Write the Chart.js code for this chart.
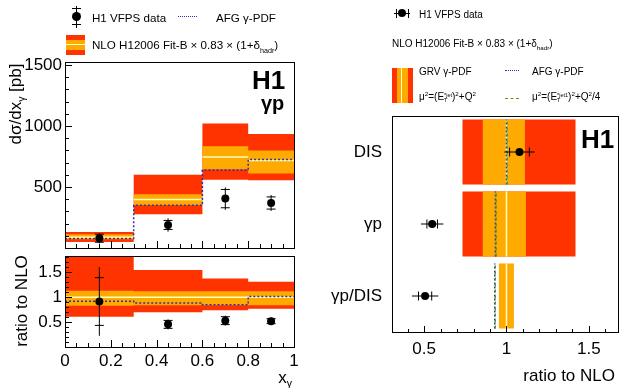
<!DOCTYPE html>
<html>
<head>
<meta charset="utf-8">
<title>H1 VFPS dijets</title>
<script src="https://cdn.jsdelivr.net/npm/chart.js@4.4.1/dist/chart.umd.min.js"></script>
<style>
  html, body { margin: 0; padding: 0; background: #fff; }
  #page { position: relative; width: 624px; height: 388px; overflow: hidden; font-family: "Liberation Sans", Arial, sans-serif; color: #000; }
  #page canvas { position: absolute; left: 0; top: 0; }
  .t { position: absolute; white-space: nowrap; line-height: 1; }
  .mid { transform: translateY(-50%); }
  .rmid { transform: translate(-100%, -50%); }
  .rot { transform: translate(-50%, -50%) rotate(-90deg); }
  sub, sup { font-size: 0.62em; line-height: 0; }
  .ss { display: inline-block; font-size: 0.55em; line-height: 1; vertical-align: -0.45em; text-align: left; }
  .sym { position: absolute; }
</style>
</head>
<body>
<div id="page">
  <canvas id="xsec" width="624" height="388"></canvas>
  <canvas id="ratio" width="624" height="388"></canvas>
  <canvas id="summary" width="624" height="388"></canvas>

  <!-- left legend -->
  <div class="sym" style="left:76px;top:6px;width:1px;height:22px;background:#000"></div>
  <div class="sym" style="left:72px;top:8px;width:9px;height:1px;background:#000"></div>
  <div class="sym" style="left:72px;top:24px;width:9px;height:1px;background:#000"></div>
  <div class="sym" style="left:72px;top:12px;width:9px;height:9px;border-radius:50%;background:#000"></div>
  <div class="t mid" style="left:92px;top:18px;font-size:11.6px">H1 VFPS data</div>
  <div class="sym" style="left:178px;top:16px;width:19px;border-top:1.5px dotted #3030a8"></div>
  <div class="t mid" style="left:216px;top:18px;font-size:11.6px">AFG γ-PDF</div>
  <div class="sym" style="left:66px;top:35px;width:19px;height:20px;background:linear-gradient(to bottom,#ff3300 0 5px,#ffaa00 5px 9.5px,#ffffc0 9.5px 10.5px,#ffaa00 10.5px 15px,#ff3300 15px 20px)"></div>
  <div class="t mid" style="left:92px;top:45px;font-size:11.6px">NLO H12006 Fit-B × 0.83 × (1+δ<sub>hadr</sub>)</div>

  <!-- left panel texts -->
  <div class="t" style="left:252px;top:67px;font-size:26px;font-weight:bold">H1</div>
  <div class="t" style="left:261px;top:93px;font-size:20px;font-weight:bold">γp</div>
  <div class="t rot" style="left:15px;top:104px;font-size:17px">dσ/dx<sub>γ</sub> [pb]</div>
  <div class="t rot" style="left:21px;top:301px;font-size:17px">ratio to NLO</div>
  <div class="t rmid" style="left:292px;top:377px;font-size:17px">x<sub>γ</sub></div>

  <!-- right legend -->
  <div class="sym" style="left:394px;top:13px;width:16px;height:1px;background:#000"></div>
  <div class="sym" style="left:396px;top:9px;width:1px;height:9px;background:#000"></div>
  <div class="sym" style="left:408px;top:9px;width:1px;height:9px;background:#000"></div>
  <div class="sym" style="left:398px;top:9px;width:8px;height:8px;border-radius:50%;background:#000"></div>
  <div class="t mid" style="left:419px;top:15px;font-size:10px">H1 VFPS data</div>
  <div class="t mid" style="left:392px;top:44px;font-size:10px">NLO H12006 Fit-B × 0.83 × (1+δ<sub>hadr</sub>)</div>
  <div class="sym" style="left:392px;top:68px;width:21px;height:35px;background:linear-gradient(to right,#ff3300 0 5px,#ffaa00 5px 9px,#ffffc0 9px 10px,#ffaa00 10px 16px,#ff3300 16px 21px)"></div>
  <div class="t mid" style="left:419px;top:72px;font-size:10px">GRV γ-PDF</div>
  <div class="sym" style="left:505px;top:70px;width:14px;border-top:1.5px dotted #3030a8"></div>
  <div class="t mid" style="left:532px;top:72px;font-size:10px">AFG γ-PDF</div>
  <div class="t mid" style="left:419px;top:98px;font-size:10px">μ<sup>2</sup>=(E<span class="ss">*jet<br>T</span>)<sup>2</sup>+Q<sup>2</sup></div>
  <div class="sym" style="left:505px;top:98px;width:14px;border-top:1.5px dashed #4f9a1e"></div>
  <div class="t mid" style="left:532px;top:98px;font-size:10px">μ<sup>2</sup>=(E<span class="ss">*jet1<br>T</span>)<sup>2</sup>+Q<sup>2</sup>/4</div>

  <!-- right panel texts -->
  <div class="t" style="left:581px;top:126px;font-size:26px;font-weight:bold">H1</div>
  <div class="t rmid" style="left:615px;top:375px;font-size:17px">ratio to NLO</div>
</div>

<script>
// bins in x_gamma
const binEdges = [0, 0.3, 0.6, 0.8, 1.0];
const binCentres = [0.15, 0.45, 0.7, 0.9];

// d sigma / d x_gamma [pb]
const nloCentral = [88, 397, 746, 718];
const nloTotalUp = [131, 601, 1020, 935];
const nloTotalDown = [49, 276, 560, 555];
const nloScaleUp = [112, 440, 834, 800];
const nloScaleDown = [72, 350, 643, 610];
const afgXsec = [78, 350, 640, 725];
const dataXsec = [80, 189, 405, 369];
const dataXsecStat = [33, 37, 75, 50];
const dataXsecTot = [42, 55, 92, 65];

// ratio to NLO per bin
const ratioCentral = [1, 1, 1, 1];
const ratioTotalUp = [1.9, 1.55, 1.38, 1.31];
const ratioTotalDown = [0.61, 0.70, 0.74, 0.77];
const ratioScaleUp = [1.13, 1.12, 1.12, 1.12];
const ratioScaleDown = [0.83, 0.84, 0.84, 0.84];
const ratioAfg = [0.92, 0.885, 0.85, 1.015];
const ratioData = [0.915, 0.455, 0.53, 0.52];
const ratioStat = [0.48, 0.08, 0.08, 0.05];
const ratioTot = [0.69, 0.10, 0.10, 0.07];

// summary: ratio to NLO for DIS, photoproduction and their ratio
const summaryCats = ['DIS', 'γp', 'γp/DIS'];
const sumTotalDown = [0.733, 0.733, null];
const sumTotalUp = [1.419, 1.419, null];
const sumScaleDown = [0.856, 0.856, 0.954];
const sumScaleUp = [1.112, 1.118, 1.045];
const sumCentral = [1, 1, 1];
const sumAfg = [1.0, 0.933, 0.929];
const sumMuAlt = [1.004, 0.937, 0.932];
const sumData = [1.079, 0.549, 0.506];
const sumStat = [0.06, 0.032, 0.04];
const sumTot = [0.092, 0.068, 0.08];

// tick labels
const xTicks = [0, 0.2, 0.4, 0.6, 0.8, 1];
const xsecTicks = [500, 1000, 1500];
const ratioTicks = [0.5, 1, 1.5];
const sumTicks = [0.5, 1, 1.5];

const RED = '#ff3300', ORANGE = '#ffaa00', PALE = '#ffffc0', BLUE = '#3030a8', GREEN = '#4f9a1e';
const BAND_HALF = 0.45;

Chart.defaults.font.family = "'Liberation Sans', Arial, sans-serif";
Chart.defaults.font.size = 17;
Chart.defaults.color = '#000';

const catPos = i => summaryCats.length - 0.5 - i;

function stepPoints(vals) {
  return binEdges.map((x, i) => ({ x, y: vals[Math.min(i, vals.length - 1)] }));
}
function binSegments(vals) {
  const pts = [];
  vals.forEach((v, i) => {
    pts.push({ x: binEdges[i], y: v }, { x: binEdges[i + 1], y: v }, { x: binEdges[i + 1], y: null });
  });
  return pts;
}
function vErrors(xs, ys, err) {
  const pts = [];
  xs.forEach((x, i) => { pts.push({ x, y: ys[i] - err[i] }, { x, y: ys[i] + err[i] }, { x, y: null }); });
  return pts;
}
function vTicks(xs, ys, err) {
  return xs.flatMap((x, i) => [{ x, y: ys[i] - err[i] }, { x, y: ys[i] + err[i] }]);
}
function catLines(vals) {
  const pts = [];
  vals.forEach((v, i) => {
    const c = catPos(i);
    pts.push({ x: v, y: c - BAND_HALF }, { x: v, y: c + BAND_HALF }, { x: v, y: null });
  });
  return pts;
}
function hErrors(vals, err) {
  const pts = [];
  vals.forEach((v, i) => {
    const c = catPos(i);
    pts.push({ x: v - err[i], y: c }, { x: v + err[i], y: c }, { x: null, y: c });
  });
  return pts;
}
function hTicks(vals, err) {
  return vals.flatMap((v, i) => [{ x: v - err[i], y: catPos(i) }, { x: v + err[i], y: catPos(i) }]);
}
function bars(lo, hi) {
  return summaryCats.map((c, i) => lo[i] == null ? null : { y: catPos(i), x: [lo[i], hi[i]] }).filter(Boolean);
}

// ROOT-like frame with inward ticks
function frameTicks(specs) {
  return {
    id: 'frameTicks',
    afterDraw(chart) {
      const { ctx, chartArea: a } = chart;
      ctx.save();
      ctx.strokeStyle = '#000';
      ctx.lineWidth = 1;
      ctx.beginPath();
      specs.forEach(sp => {
        const s = chart.scales[sp.id];
        const first = Math.ceil(s.min / sp.minor - 1e-6);
        const last = Math.floor(s.max / sp.minor + 1e-6);
        for (let k = first; k <= last; k++) {
          const v = k * sp.minor;
          const r = v / sp.major;
          const len = Math.abs(r - Math.round(r)) < 1e-6 ? sp.majorLen : sp.minorLen;
          const p = Math.round(s.getPixelForValue(v)) + 0.5;
          if (s.axis === 'x') { ctx.moveTo(p, a.bottom); ctx.lineTo(p, a.bottom - len); }
          else { ctx.moveTo(a.left, p); ctx.lineTo(a.left + len, p); }
        }
      });
      ctx.stroke();
      ctx.strokeRect(Math.round(a.left) + 0.5, Math.round(a.top) + 0.5,
        Math.round(a.right - a.left), Math.round(a.bottom - a.top));
      ctx.restore();
    }
  };
}

function bandDatasets(totUp, totDown, scUp, scDown, central, afg, ys, stat, tot) {
  return [
    { type: 'line', data: stepPoints(totUp), stepped: true, borderWidth: 0, pointRadius: 0, fill: '+1', backgroundColor: RED, order: 10 },
    { type: 'line', data: stepPoints(totDown), stepped: true, borderWidth: 0, pointRadius: 0, fill: false, order: 10 },
    { type: 'line', data: stepPoints(scUp), stepped: true, borderWidth: 0, pointRadius: 0, fill: '+1', backgroundColor: ORANGE, order: 9 },
    { type: 'line', data: stepPoints(scDown), stepped: true, borderWidth: 0, pointRadius: 0, fill: false, order: 9 },
    { type: 'line', data: binSegments(central), borderColor: PALE, borderWidth: 1.5, pointRadius: 0, fill: false, order: 8 },
    { type: 'line', data: stepPoints(afg), stepped: true, borderColor: BLUE, borderWidth: 1.5, borderDash: [2, 2], pointRadius: 0, fill: false, order: 7 },
    { type: 'line', data: vErrors(binCentres, ys, tot), borderColor: '#000', borderWidth: 1, pointRadius: 0, fill: false, order: 3 },
    { type: 'scatter', data: vTicks(binCentres, ys, stat), pointStyle: 'line', pointRadius: 4.5, pointBorderColor: '#000', pointBorderWidth: 1, order: 2 },
    { type: 'scatter', data: binCentres.map((x, i) => ({ x, y: ys[i] })), pointRadius: 4, pointBackgroundColor: '#000', pointBorderColor: '#000', pointBorderWidth: 0, order: 1 }
  ];
}

const common = {
  responsive: false,
  animation: false,
  events: [],
  devicePixelRatio: 1,
  plugins: { legend: { display: false }, tooltip: { enabled: false } }
};
const noGrid = { display: false, drawTicks: false };

// top left: cross section
new Chart(document.getElementById('xsec'), {
  type: 'scatter',
  data: { datasets: bandDatasets(nloTotalUp, nloTotalDown, nloScaleUp, nloScaleDown, nloCentral, afgXsec, dataXsec, dataXsecStat, dataXsecTot) },
  options: {
    ...common,
    layout: { padding: { left: 5, right: 330, top: 62, bottom: 140 } },
    scales: {
      x: { type: 'linear', min: 0, max: 1, display: false },
      y: {
        type: 'linear', min: 0, max: 1525,
        grid: noGrid, border: { display: false },
        ticks: { padding: 3, callback: v => String(v) },
        afterBuildTicks: s => { s.ticks = xsecTicks.map(v => ({ value: v })); },
        afterFit: s => { s.width = 60; }
      }
    }
  },
  plugins: [frameTicks([
    { id: 'x', major: 0.2, minor: 0.05, majorLen: 7, minorLen: 4 },
    { id: 'y', major: 500, minor: 100, majorLen: 7, minorLen: 4 }
  ])]
});

// bottom left: ratio to NLO
new Chart(document.getElementById('ratio'), {
  type: 'scatter',
  data: { datasets: bandDatasets(ratioTotalUp, ratioTotalDown, ratioScaleUp, ratioScaleDown, ratioCentral, ratioAfg, ratioData, ratioStat, ratioTot) },
  options: {
    ...common,
    layout: { padding: { left: 5, right: 330, top: 256, bottom: 11 } },
    scales: {
      x: {
        type: 'linear', min: 0, max: 1,
        grid: noGrid, border: { display: false },
        ticks: { padding: 4, maxRotation: 0, autoSkip: false, callback: v => String(v) },
        afterBuildTicks: s => { s.ticks = xTicks.map(v => ({ value: v })); },
        afterFit: s => { s.height = 30; }
      },
      y: {
        type: 'linear', min: 0, max: 1.83,
        grid: noGrid, border: { display: false },
        ticks: { padding: 3, callback: v => String(v) },
        afterBuildTicks: s => { s.ticks = ratioTicks.map(v => ({ value: v })); },
        afterFit: s => { s.width = 60; }
      }
    }
  },
  plugins: [frameTicks([
    { id: 'x', major: 0.2, minor: 0.05, majorLen: 7, minorLen: 4 },
    { id: 'y', major: 0.5, minor: 0.1, majorLen: 7, minorLen: 4 }
  ])]
});

// right: summary
new Chart(document.getElementById('summary'), {
  type: 'scatter',
  data: {
    datasets: [
      { type: 'bar', indexAxis: 'y', grouped: false, data: bars(sumTotalDown, sumTotalUp), backgroundColor: RED, borderWidth: 0, categoryPercentage: 1, barPercentage: 2 * BAND_HALF, order: 10 },
      { type: 'bar', indexAxis: 'y', grouped: false, data: bars(sumScaleDown, sumScaleUp), backgroundColor: ORANGE, borderWidth: 0, categoryPercentage: 1, barPercentage: 2 * BAND_HALF, order: 9 },
      { type: 'line', data: catLines(sumCentral), borderColor: PALE, borderWidth: 1.5, pointRadius: 0, fill: false, order: 8 },
      { type: 'line', data: catLines(sumAfg), borderColor: BLUE, borderWidth: 1.5, borderDash: [2, 2], pointRadius: 0, fill: false, order: 7 },
      { type: 'line', data: catLines(sumMuAlt), borderColor: GREEN, borderWidth: 1.5, borderDash: [3, 3], pointRadius: 0, fill: false, order: 6 },
      { type: 'line', data: hErrors(sumData, sumTot), borderColor: '#000', borderWidth: 1, pointRadius: 0, fill: false, order: 3 },
      { type: 'scatter', data: hTicks(sumData, sumStat), pointStyle: 'line', pointRotation: 90, pointRadius: 4.5, pointBorderColor: '#000', pointBorderWidth: 1, order: 2 },
      { type: 'scatter', data: sumData.map((x, i) => ({ x, y: catPos(i) })), pointRadius: 4, pointBackgroundColor: '#000', pointBorderColor: '#000', pointBorderWidth: 0, order: 1 }
    ]
  },
  options: {
    ...common,
    layout: { padding: { left: 312, right: 6, top: 116, bottom: 26 } },
    scales: {
      x: {
        type: 'linear', min: 0.305, max: 1.677, offset: false,
        grid: noGrid, border: { display: false },
        ticks: { padding: 7, maxRotation: 0, autoSkip: false, callback: v => String(v) },
        afterBuildTicks: s => { s.ticks = sumTicks.map(v => ({ value: v })); },
        afterFit: s => { s.height = 30; }
      },
      y: {
        type: 'linear', min: 0, max: summaryCats.length, offset: false,
        grid: noGrid, border: { display: false },
        ticks: { padding: 10, callback: v => summaryCats[summaryCats.length - 1 - Math.floor(v)] },
        afterBuildTicks: s => { s.ticks = summaryCats.map((c, i) => ({ value: catPos(i) })); },
        afterFit: s => { s.width = 80; }
      }
    }
  },
  plugins: [frameTicks([
    { id: 'x', major: 0.5, minor: 0.1, majorLen: 6, minorLen: 3 }
  ])]
});
</script>
</body>
</html>
